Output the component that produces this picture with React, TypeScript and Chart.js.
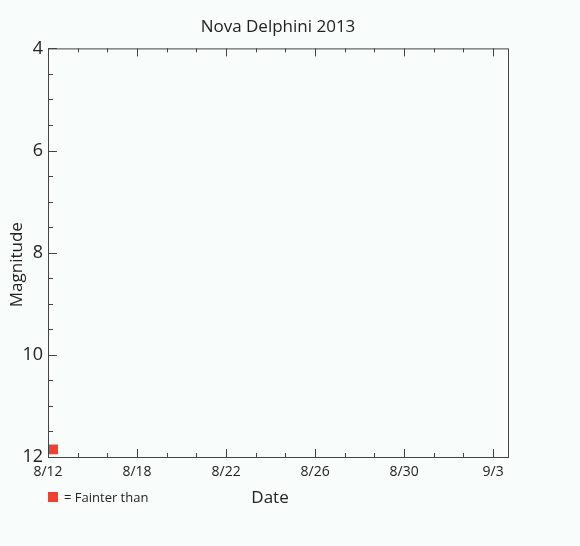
import React, { useEffect, useRef } from "react";
import { Chart, registerables } from "chart.js";

Chart.register(...registerables);

// date labels sit on every third day step of the axis
const dateLabels = ["8/12", "8/18", "8/22", "8/26", "8/30", "9/3"];
const dayTicks = [0, 1, 2, 3, 4, 5, 6, 7, 8, 9, 10, 11, 12, 13, 14, 15];
const magTicks = [4, 4.5, 5, 5.5, 6, 6.5, 7, 7.5, 8, 8.5, 9, 9.5, 10, 10.5, 11, 11.5, 12];

// observations marked "fainter than"
const fainterDays = [0.17];
const fainterMags = [11.85];

const FONT = "'Open Sans', 'DejaVu Sans', sans-serif";
const INK = "#222";

const innerTicks = {
  id: "innerTicks",
  afterDraw(chart: any) {
    const { ctx, chartArea: a } = chart;
    const x = chart.scales.x;
    const y = chart.scales.y;
    ctx.save();
    ctx.strokeStyle = "#444";
    ctx.lineWidth = 1;
    ctx.strokeRect(a.left + 0.5, a.top + 0.5, a.right - a.left, a.bottom - a.top);
    ctx.beginPath();
    dayTicks.forEach((d) => {
      const px = Math.round(x.getPixelForValue(d)) + 0.5;
      const len = d % 3 === 0 ? 8 : 4;
      ctx.moveTo(px, a.bottom);
      ctx.lineTo(px, a.bottom - len);
      ctx.moveTo(px, a.top);
      ctx.lineTo(px, a.top + len);
    });
    magTicks.forEach((m) => {
      const py = Math.round(y.getPixelForValue(m)) + 0.5;
      const len = m % 2 === 0 ? 9 : 5;
      ctx.moveTo(a.left, py);
      ctx.lineTo(a.left + len, py);
    });
    ctx.stroke();

    // axis titles, set a little off-centre as in the original
    ctx.fillStyle = INK;
    ctx.font = "17px " + FONT;
    ctx.textAlign = "center";
    ctx.textBaseline = "middle";
    ctx.fillText("Date", (a.left + a.right) / 2 - 8, a.bottom + 41);
    ctx.translate(17, (a.top + a.bottom) / 2 + 12);
    ctx.rotate(-Math.PI / 2);
    ctx.fillText("Magnitude", 0, 0);
    ctx.restore();
  },
};

const App = () => {
  const chartRef = useRef<HTMLCanvasElement | null>(null);
  const chartInstanceRef = useRef<Chart | null>(null);

  useEffect(() => {
    document.body.style.margin = "0";
    const ctx = chartRef.current?.getContext("2d");
    if (!ctx) return;

    if (chartInstanceRef.current) {
      chartInstanceRef.current.destroy();
    }

    chartInstanceRef.current = new Chart(ctx, {
      type: "scatter",
      data: {
        datasets: [
          {
            label: "Fainter than",
            data: fainterDays.map((d, i) => ({ x: d, y: fainterMags[i] })),
            pointStyle: "rect",
            radius: 7,
            backgroundColor: "#f0402f",
            borderWidth: 0,
          },
        ],
      },
      options: {
        responsive: false,
        animation: false,
        layout: { padding: { left: 8, right: 72, top: 0, bottom: 38 } },
        scales: {
          x: {
            type: "linear",
            min: 0,
            max: 15.5,
            grid: { display: false, drawTicks: false },
            border: { display: false },
            afterBuildTicks: (scale: any) => {
              scale.ticks = dayTicks.filter((d) => d % 3 === 0).map((d) => ({ value: d }));
            },
            afterFit: (scale: any) => {
              scale.height = 546 - 457 - 38;
            },
            ticks: {
              autoSkip: false,
              maxRotation: 0,
              padding: 7,
              color: INK,
              font: { family: FONT, size: 14 },
              callback: (v: any) => dateLabels[Math.round(Number(v) / 3)] ?? "",
            },
          },
          y: {
            reverse: true,
            min: 4,
            max: 12,
            grid: { display: false, drawTicks: false },
            border: { display: false },
            afterBuildTicks: (scale: any) => {
              scale.ticks = magTicks.filter((m) => m % 2 === 0).map((m) => ({ value: m }));
            },
            afterFit: (scale: any) => {
              scale.width = 48 - 8;
            },
            ticks: {
              padding: 5,
              color: INK,
              font: { family: FONT, size: 18 },
            },
          },
        },
        plugins: {
          legend: { display: false },
          tooltip: { enabled: false },
          title: {
            display: true,
            fullSize: false,
            text: "Nova Delphini 2013",
            color: INK,
            padding: { top: 17, bottom: 11 },
            font: { family: FONT, size: 17, weight: "normal" },
          },
        },
      },
      plugins: [innerTicks],
    });

    return () => {
      if (chartInstanceRef.current) {
        chartInstanceRef.current.destroy();
        chartInstanceRef.current = null;
      }
    };
  }, []);

  return (
    <div style={{ position: "relative", width: 580, height: 546, background: "#f8fcfa" }}>
      <canvas ref={chartRef} width={580} height={546}></canvas>
      <div
        style={{
          position: "absolute",
          left: 48,
          top: 487,
          display: "flex",
          alignItems: "center",
          fontFamily: FONT,
          fontSize: 13,
          color: INK,
          lineHeight: "20px",
        }}
      >
        <span style={{ display: "inline-block", width: 10, height: 10, background: "#f0402f", marginRight: 6 }}></span>
        <span>= Fainter than</span>
      </div>
    </div>
  );
};

export default App;
